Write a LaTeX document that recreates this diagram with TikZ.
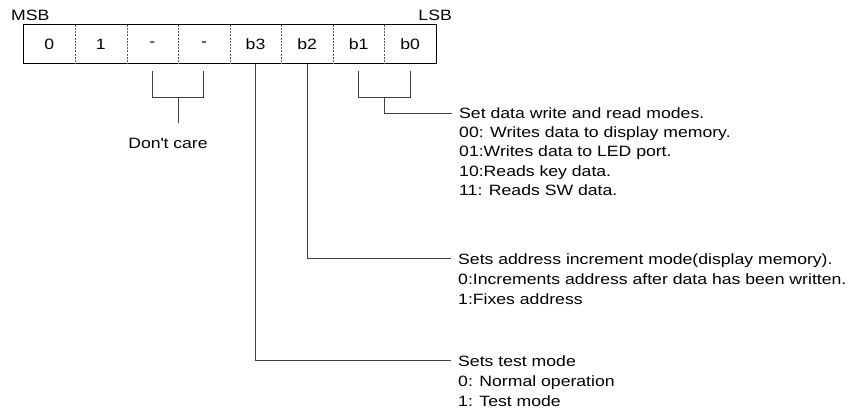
\documentclass[tikz,border=0pt]{standalone}
\usepackage{fontspec}
\setmainfont{Liberation Sans}[FakeStretch=1.18]
\usetikzlibrary{calc}
\tikzset{
  x=1bp, y=-1bp,
  cell/.style={minimum width=51.56bp, minimum height=38.5bp, inner sep=0pt, font=\fontsize{15}{19}\selectfont},
  divider/.style={line width=0.6bp, gray!70!black, dash pattern=on 2bp off 1.2bp},
  frame/.style={line width=1bp, black},
  conn/.style={line width=1bp, black!75},
  txt/.style={anchor=base west, inner sep=0pt, font=\fontsize{15}{19}\selectfont},
  lbl/.style={inner sep=0pt, font=\fontsize{15}{19}\selectfont}
}
\begin{document}
\begin{tikzpicture}
\useasboundingbox (0,0) rectangle (851,416);
% register cells
\foreach \i/\t in {0/0,1/1,2/-,3/-,4/b3,5/b2,6/b1,7/b0}{
  \node[cell] (c\i) at ({23.5+51.56*(\i+0.5)},44.25) {\t};
}
\draw[frame] (c0.north west) rectangle (c7.south east);
\foreach \i in {0,...,6}{
  \draw[divider] (c\i.north east) -- (c\i.south east);
}
\node[lbl, anchor=base west] (msb) at (11,20) {MSB};
\node[lbl, anchor=base east] (lsb) at (452,20) {LSB};

% Don't care bracket
\draw[conn] ($(c2.south)+(0,7.5)$) -- ++(0,26) -| ($(c3.south)+(0,7.5)$);
\coordinate (dcs) at ($(c2.south east)+(0,33.5)$);
\node[lbl, anchor=base] (dc) at (168,148) {Don\textquotesingle t care};
\draw[conn] (dcs) -- ++(0,26);

% text blocks
\node[txt] (a1) at (459,118.3) {Set data write and read modes.};
\node[txt] (a2) at (459,137.7) {00: Writes data to display memory.};
\node[txt] (a3) at (459,156.9) {01:Writes data to LED port.};
\node[txt] (a4) at (459,176.2) {10:Reads key data.};
\node[txt] (a5) at (459,195.6) {11: Reads SW data.};

\node[txt] (b1) at (458,264) {Sets address increment mode(display memory).};
\node[txt] (b2) at (458,284) {0:Increments address after data has been written.};
\node[txt] (b3) at (458,304) {1:Fixes address};

\node[txt] (d1) at (458,366.5) {Sets test mode};
\node[txt] (d2) at (458,386.5) {0: Normal operation};
\node[txt] (d3) at (458,406.5) {1: Test mode};

% b1/b0 bracket
\draw[conn] ($(c6.south)+(0,7.5)$) -- ++(0,26) -| ($(c7.south)+(0,7.5)$);
\coordinate (ae) at ($(a1.base west)+(-7.5,-5.3)$);
\draw[conn] ($(c6.south east)+(0,33.5)$) |- (ae);

% b2 connector
\coordinate (be) at ($(b1.base west)+(-7,-5.7)$);
\draw[conn] (c5.south) |- (be);

% b3 connector
\coordinate (de) at ($(d1.base west)+(-7,-6)$);
\draw[conn] (c4.south) |- (de);
\end{tikzpicture}
\end{document}
